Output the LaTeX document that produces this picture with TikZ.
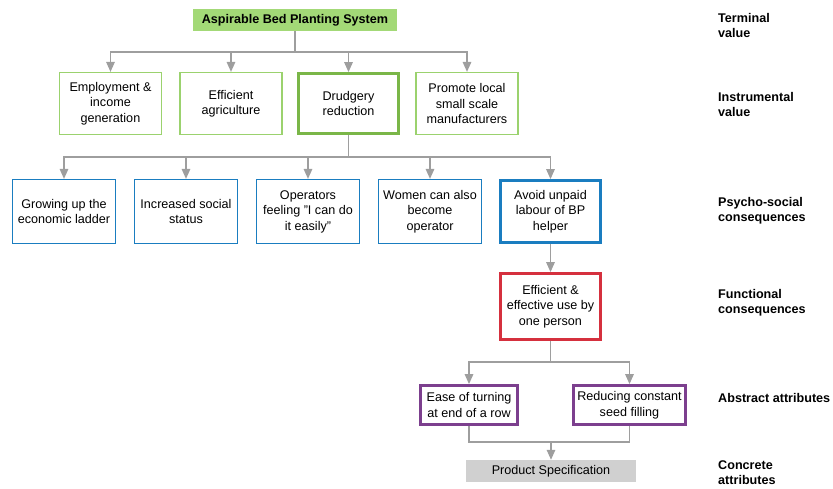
\documentclass[tikz,border=0pt]{standalone}
\usepackage{fontspec}
\setmainfont{Liberation Sans}
\usetikzlibrary{arrows.meta}

\definecolor{linkgray}{HTML}{9E9E9E}
\definecolor{leafgreen}{HTML}{A3D977}
\definecolor{valgreen}{HTML}{7AB648}
\definecolor{psyblue}{HTML}{1A7DC0}
\definecolor{funred}{HTML}{D5303E}
\definecolor{attpurple}{HTML}{7C3F8E}
\definecolor{specgray}{HTML}{D0D0D0}

\begin{document}
\begin{tikzpicture}[x=1pt, y=-1pt, font=\fontsize{12.6}{15.5}\selectfont,
  link/.style={draw=linkgray, line width=1.5pt},
  arr/.style={link, -{Triangle[width=8.5pt, length=10pt]}},
  box/.style={draw, fill=white, align=center, inner sep=0pt, line width=1.2pt},
  boldbox/.style={box, line width=2.8pt},
  tag/.style={anchor=west, align=left, inner sep=0pt, font=\fontsize{12.6}{15.5}\selectfont\bfseries}]

  \useasboundingbox (0,0) rectangle (833,488);

  % terminal value
  \node[fill=leafgreen, inner sep=0pt, minimum width=204pt, minimum height=22pt,
    font=\fontsize{12.6}{15.5}\selectfont\bfseries] (abp) at (295,20) {Aspirable Bed Planting System};

  % instrumental values
  \node[box, draw=leafgreen!80!valgreen, minimum width=102pt, minimum height=62pt] (emp) at (110.5,103.5) {Employment \&\\income\\generation};
  \node[box, draw=leafgreen!80!valgreen, minimum width=102pt, minimum height=62pt] (agri) at (231,103.5) {Efficient\\agriculture};
  \node[boldbox, draw=valgreen, minimum width=100pt, minimum height=60pt] (drud) at (348.5,103.5) {Drudgery\\reduction};
  \node[box, draw=leafgreen!80!valgreen, minimum width=102pt, minimum height=62pt] (local) at (467,103.5) {Promote local\\small scale\\manufacturers};

  % psycho-social consequences
  \node[box, draw=psyblue, minimum width=103pt, minimum height=64pt] (ladder) at (64,211.5) {Growing up the\\economic ladder};
  \node[box, draw=psyblue, minimum width=103pt, minimum height=64pt] (status) at (186,211.5) {Increased social\\status};
  \node[box, draw=psyblue, minimum width=103pt, minimum height=64pt] (easy) at (308,211.5) {Operators\\feeling "I can do\\it easily"};
  \node[box, draw=psyblue, minimum width=103pt, minimum height=64pt] (women) at (430,211.5) {Women can also\\become\\operator};
  \node[boldbox, draw=psyblue, minimum width=100pt, minimum height=62pt] (unpaid) at (550.5,211.5) {Avoid unpaid\\labour of BP\\helper};

  % functional consequence
  \node[boldbox, draw=funred, minimum width=100pt, minimum height=66pt] (oneper) at (550.5,306.5) {Efficient \&\\effective use by\\one person};

  % abstract attributes
  \node[boldbox, draw=attpurple, minimum width=97pt, minimum height=39pt] (turn) at (469,405) {Ease of turning\\at end of a row};
  \node[boldbox, draw=attpurple, minimum width=112pt, minimum height=39pt] (seed) at (629.5,405) {Reducing constant\\seed filling};

  % concrete attribute
  \node[fill=specgray, inner sep=0pt, minimum width=170pt, minimum height=22pt] (spec) at (551,471) {Product Specification};

  % bus levels
  \coordinate (bus1) at (295,52);
  \coordinate (bus2) at (348.5,157);
  \coordinate (bus3) at (550.5,362);
  \coordinate (bus4) at (551,442);

  % links
  \foreach \t in {emp, agri, drud, local}
    \draw[arr] (abp.south) -- (abp.south |- bus1) -| (\t.north);
  \foreach \t in {ladder, status, easy, women, unpaid}
    \draw[arr] (drud.south) -- (drud.south |- bus2) -| (\t.north);
  \draw[arr] (unpaid.south) -- (oneper.north);
  \foreach \t in {turn, seed}
    \draw[arr] (oneper.south) -- (oneper.south |- bus3) -| (\t.north);
  \draw[link] (turn.south) |- (seed.south |- bus4) -- (seed.south);
  \draw[arr] (spec.north |- bus4) -- (spec.north);

  % level tags
  \node[tag] (t1) at (718,25.5) {Terminal\\value};
  \node[tag] (t2) at (718,104.5) {Instrumental\\value};
  \node[tag] (t3) at (718,210.5) {Psycho-social\\consequences};
  \node[tag] (t4) at (718,302.5) {Functional\\consequences};
  \node[tag] (t5) at (718,398) {Abstract attributes};
  \node[tag] (t6) at (718,472.5) {Concrete\\attributes};
\end{tikzpicture}
\end{document}
